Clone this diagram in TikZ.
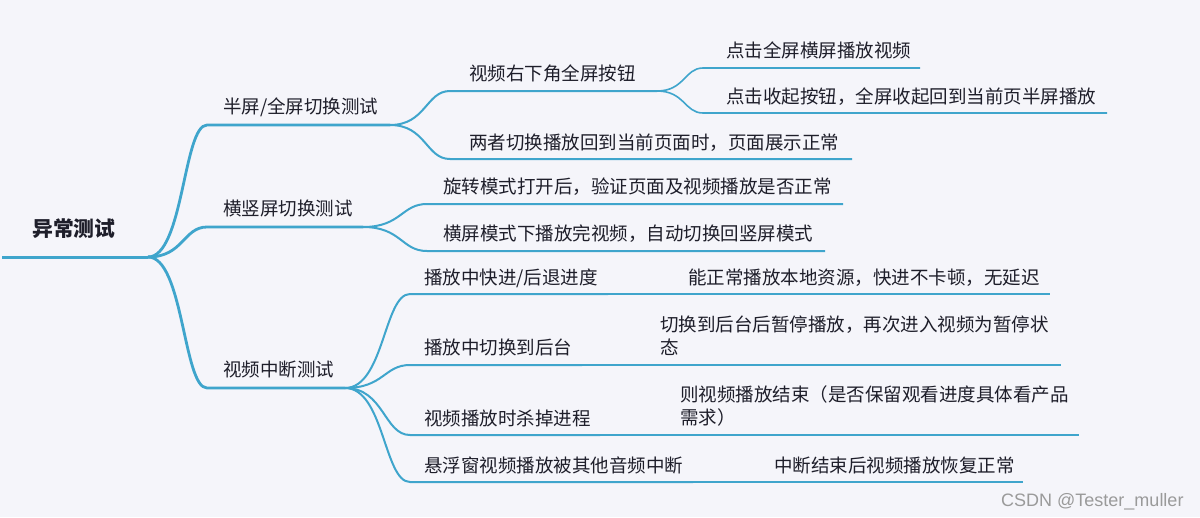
\documentclass[tikz,border=0pt]{standalone}
\usepackage{fontspec}
\setmainfont{Noto Sans CJK SC}
\newfontfamily\wmfont{Liberation Sans}
\usetikzlibrary{calc}
\definecolor{bg}{HTML}{F5F5FA}
\definecolor{ln}{HTML}{3FA5CC}
\definecolor{tx}{HTML}{1E1E2A}
\definecolor{wm}{HTML}{9A9A9A}
\begin{document}
\begin{tikzpicture}[x=1pt,y=-1pt,
  lbl/.style={anchor=base west, inner sep=0pt, text=tx, font=\fontsize{18.5}{23}\selectfont},
  mlbl/.style={anchor=west, inner sep=0pt, text=tx, align=left, font=\fontsize{18.5}{23}\selectfont},
  rootlbl/.style={anchor=base west, inner sep=0pt, text=tx, font=\fontsize{20.8}{24}\selectfont\bfseries},
  l0/.style={draw=ln, line width=3pt},
  l1/.style={draw=ln, line width=2.8pt},
  l2/.style={draw=ln, line width=2pt},
  l3/.style={draw=ln, line width=1.6pt},
  curvy/.style={to path={.. controls ($(\tikztostart)!0.6!(\tikztotarget|-\tikztostart)$) and ($(\tikztotarget)!0.4!(\tikztostart|-\tikztotarget)$) .. (\tikztotarget)}}
]
\fill[bg] (0,0) rectangle (1200,517);
\useasboundingbox (0,0) rectangle (1200,517);

% coordinates
\coordinate (r0) at (2,257);
\coordinate (r) at (148,257);
\coordinate (a1s) at (207,125); \coordinate (a1e) at (390,125);
\coordinate (a2s) at (207,227); \coordinate (a2e) at (363,227);
\coordinate (a3s) at (207,388); \coordinate (a3e) at (345,388);
\coordinate (b1s) at (450,91);  \coordinate (b1e) at (657,91);
\coordinate (b2s) at (450,159); \coordinate (b2e) at (852,159);
\coordinate (b3s) at (427,204); \coordinate (b3e) at (843,204);
\coordinate (b4s) at (427,251); \coordinate (b4e) at (825,251);
\coordinate (b5s) at (410,294); \coordinate (b5e) at (608,294);
\coordinate (b6s) at (410,365); \coordinate (b6e) at (582,365);
\coordinate (b7s) at (410,435); \coordinate (b7e) at (600,435);
\coordinate (b8s) at (410,482); \coordinate (b8e) at (693,482);
\coordinate (c1s) at (703,68);  \coordinate (c1e) at (920,68);
\coordinate (c2s) at (703,113); \coordinate (c2e) at (1107,113);
\coordinate (c3s) at (678,294); \coordinate (c3e) at (1050,294);
\coordinate (c4s) at (652,365); \coordinate (c4e) at (1061,365);
\coordinate (c5s) at (670,435); \coordinate (c5e) at (1079,435);
\coordinate (c6s) at (763,482); \coordinate (c6e) at (1023,482);

% root
\draw[l0] (r0) -- (r);
\node[rootlbl] (root) at (32,236) {异常测试};

% level 1
\draw[l1] (r) to[curvy] (a1s) -- (a1e);
\draw[l1] (r) to[curvy] (a2s) -- (a2e);
\draw[l1] (r) to[curvy] (a3s) -- (a3e);
\node[lbl] (n1) at (223,113) {半屏/全屏切换测试};
\node[lbl] (n2) at (223,215) {横竖屏切换测试};
\node[lbl] (n3) at (223,376) {视频中断测试};

% level 2
\draw[l2] (a1e) to[curvy] (b1s) -- (b1e);
\draw[l2] (a1e) to[curvy] (b2s) -- (b2e);
\draw[l2] (a2e) to[curvy] (b3s) -- (b3e);
\draw[l2] (a2e) to[curvy] (b4s) -- (b4e);
\draw[l2] (a3e) to[curvy] (b5s) -- (b5e);
\draw[l2] (a3e) to[curvy] (b6s) -- (b6e);
\draw[l2] (a3e) to[curvy] (b7s) -- (b7e);
\draw[l2] (a3e) to[curvy] (b8s) -- (b8e);
\node[lbl] (m1) at (469,80) {视频右下角全屏按钮};
\node[lbl] (m2) at (469,149) {两者切换播放回到当前页面时，页面展示正常};
\node[lbl] (m3) at (443,193) {旋转模式打开后，验证页面及视频播放是否正常};
\node[lbl] (m4) at (443,240) {横屏模式下播放完视频，自动切换回竖屏模式};
\node[lbl] (m5) at (424,284) {播放中快进/后退进度};
\node[lbl] (m6) at (424,354) {播放中切换到后台};
\node[lbl] (m7) at (424,425) {视频播放时杀掉进程};
\node[lbl] (m8) at (424,472) {悬浮窗视频播放被其他音频中断};

% level 3
\draw[l3] (b1e) to[curvy] (c1s) -- (c1e);
\draw[l3] (b1e) to[curvy] (c2s) -- (c2e);
\draw[l3] (b5e) -- (c3s) -- (c3e);
\draw[l3] (b6e) -- (c4s) -- (c4e);
\draw[l3] (b7e) -- (c5s) -- (c5e);
\draw[l3] (b8e) -- (c6s) -- (c6e);
\node[lbl] (k1) at (726,57) {点击全屏横屏播放视频};
\node[lbl] (k2) at (726,103) {点击收起按钮，全屏收起回到当前页半屏播放};
\node[lbl] (k3) at (688,284) {能正常播放本地资源，快进不卡顿，无延迟};
\node[mlbl] (k4) at (660,336) {切换到后台后暂停播放，再次进入视频为暂停状\\态};
\node[mlbl] (k5) at (680,406) {则视频播放结束（是否保留观看进度具体看产品\\需求）};
\node[lbl] (k6) at (774,472) {中断结束后视频播放恢复正常};

% watermark
\node[anchor=base west, inner sep=0pt, text=wm, font=\wmfont\fontsize{18}{20}\selectfont] (wmk) at (1001,506) {CSDN @Tester\_muller};
\end{tikzpicture}
\end{document}
